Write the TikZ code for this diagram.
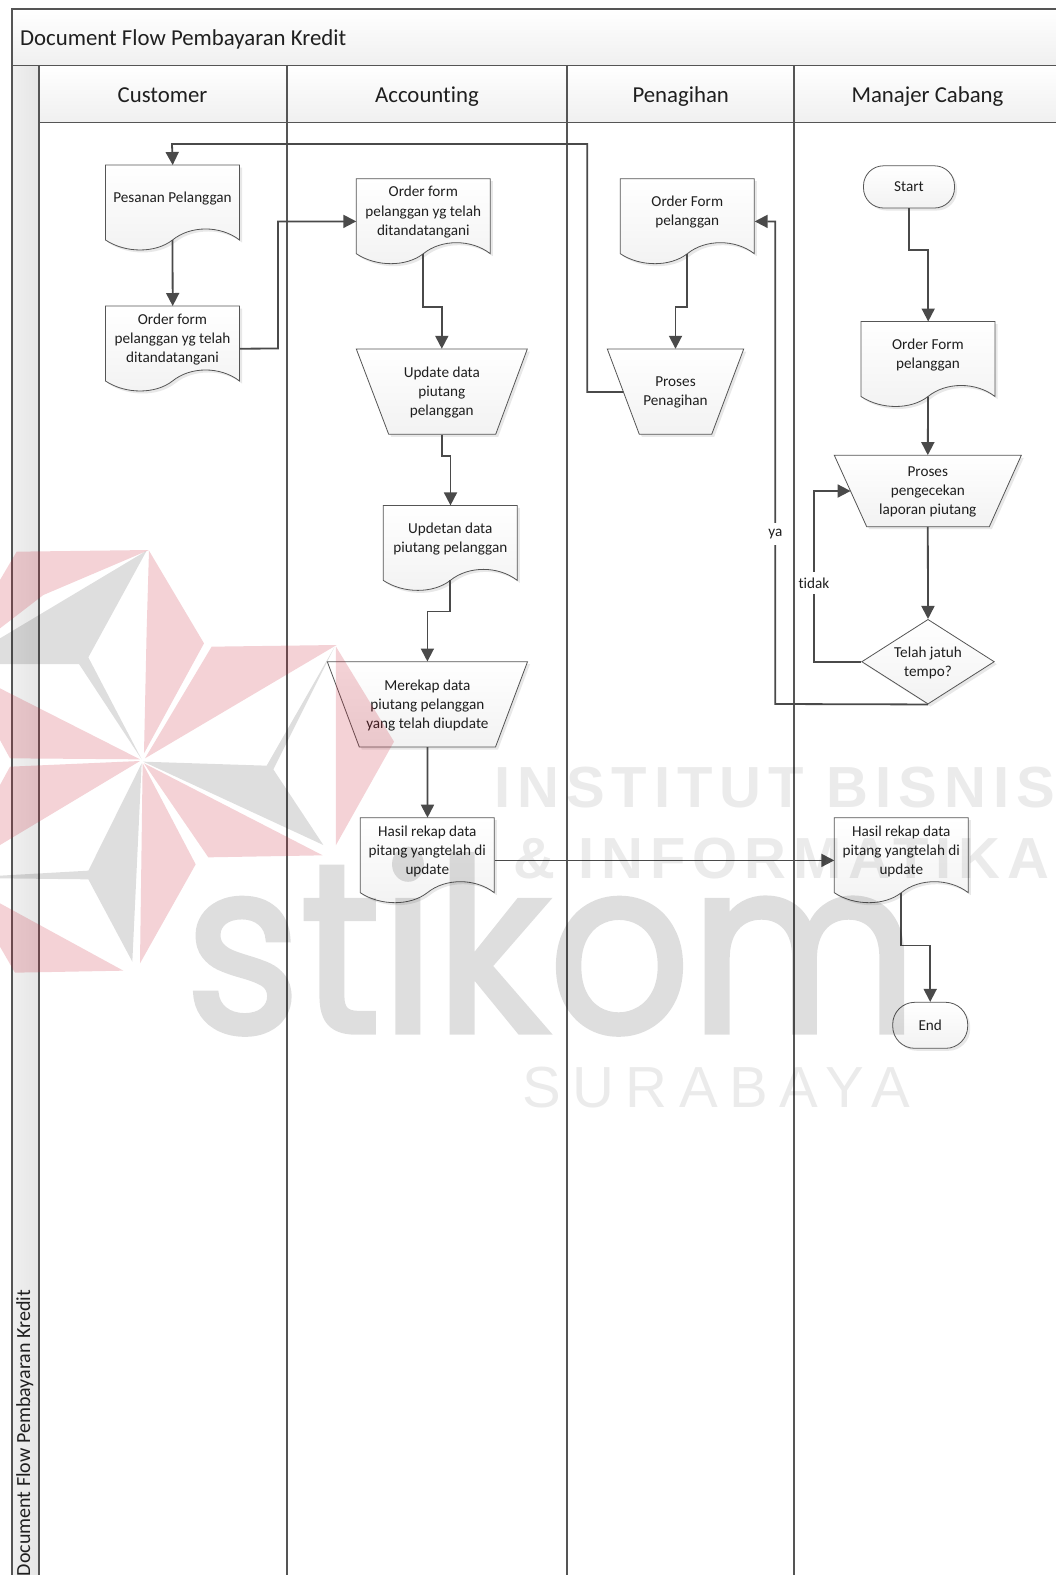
\documentclass[tikz,border=0pt]{standalone}
\usepackage{fontspec}
\setmainfont{Carlito}[Ligatures=NoCommon]
\newfontfamily\wmbig{Poppins}[FakeBold=2.2]
\newfontfamily\wmbold{Liberation Sans}[BoldFont={Liberation Sans Bold},LetterSpace=12]
\newfontfamily\wmthin{Liberation Sans}[LetterSpace=20]
\usetikzlibrary{arrows.meta,shapes.geometric,calc}
\definecolor{ln}{HTML}{555555}
\definecolor{cn}{HTML}{4A4A4A}
\definecolor{bd}{HTML}{555555}
\definecolor{tx}{HTML}{1F1F1F}
\definecolor{sh}{HTML}{E8E8E8}
\definecolor{wmpink}{HTML}{C81E32}
\tikzset{
  flowfill/.style={top color=white,bottom color=black!5,draw=bd,line width=.8pt},
  shadowfill/.style={fill=sh},
  txt/.style={text=tx,font=\fontsize{15.2}{19.2}\selectfont,align=center,inner sep=0pt,yshift=-1pt},
  lane/.style={draw=ln,line width=1.3pt},
  conn/.style={draw=cn,line width=1.8pt,-{Triangle[length=13pt,width=13pt]}},
  header/.style={top color=white,bottom color=black!6},
  pinkshape/.style={fill=wmpink,fill opacity=.2},
  greyshape/.style={fill=black,fill opacity=.13},
  heading/.style={text=tx,font=\fontsize{22.8}{28}\selectfont,inner sep=0pt,text height=16pt,text depth=5pt},
  lbl/.style={text=tx,font=\fontsize{15.2}{19}\selectfont,fill=white,inner sep=1pt,minimum height=22pt}
}
% name, left, top, text
\newcommand{\docnode}[4]{%
  \path[shadowfill,shift={(#2+2.5,#3+2.5)}] (0,0) -- (134,0) -- (134,75) .. controls (115,60.3) and (85,60.3) .. (67,75) .. controls (50,88.3) and (20,88.3) .. (0,75) -- cycle;
  \path[flowfill,shift={(#2,#3)}] (0,0) -- (134,0) -- (134,75) .. controls (115,60.3) and (85,60.3) .. (67,75) .. controls (50,88.3) and (20,88.3) .. (0,75) -- cycle;
  \node[inner sep=0pt,minimum width=134pt,minimum height=85pt,anchor=north west] (#1) at (#2,#3) {};
  \coordinate (#1-w) at ({#2+67},{#3+75});
  \node[txt] (#1-t) at ({#2+67},{#3+32.5}) {#4};
}
% name, xTL, xTR, xBL, xBR, yT, yB, text
\newcommand{\trapnode}[8]{%
  \path[shadowfill,shift={(2.5,2.5)}] (#2,#6) -- (#3,#6) -- (#5,#7) -- (#4,#7) -- cycle;
  \path[flowfill] (#2,#6) -- (#3,#6) -- (#5,#7) -- (#4,#7) -- cycle;
  \node[inner sep=0pt,minimum width={(#3-#2)*1pt},minimum height={(#7-#6)*1pt}] (#1) at ({(#2+#3)/2},{(#6+#7)/2}) {};
  \node[txt] (#1-t) at (#1) {#8};
}
\begin{document}
\begin{tikzpicture}[x=1pt,y=-1pt]
\useasboundingbox (0,0) rectangle (1056,1575);
\clip (0,0) rectangle (1056,1575);
\fill[white] (0,0) rectangle (1056,1575);
% header bands
\path[header] (12,9) rectangle (1056,65.5);
\path[header] (39,65.5) rectangle (1056,122.5);
\path[left color=black!6,middle color=white,right color=black!10] (12,65.5) rectangle (39,1575);
% titles
\node[heading,anchor=west] (title) at (20,39.5) {Document Flow Pembayaran Kredit};
\node[heading,rotate=90,anchor=east,font=\fontsize{20}{24}\selectfont,text height=14pt,text depth=4pt] (sidetitle) at (25,1290) {Document Flow Pembayaran Kredit};
\node[heading] (h1) at (162.5,96.5) {Customer};
\node[heading] (h2) at (427,96.5) {Accounting};
\node[heading] (h3) at (680.7,96.5) {Penagihan};
\node[heading] (h4) at (927.5,96.5) {Manajer Cabang};
% lanes
\draw[lane] (1056,9) -- (12,9) -- (12,1575);
\draw[lane] (12,65.5) -- (1056,65.5);
\draw[lane] (39,122.5) -- (1056,122.5);
\draw[lane] (39,65.5) -- (39,1575);
\draw[lane] (287,65.5) -- (287,1575);
\draw[lane] (567,65.5) -- (567,1575);
\draw[lane] (794,65.5) -- (794,1575);
% shapes
\docnode{pesan}{105.5}{165}{Pesanan Pelanggan}
\docnode{ordc}{105.5}{306}{Order form\\pelanggan yg telah\\ditandatangani}
\docnode{orda}{356.3}{178.7}{Order form\\pelanggan yg telah\\ditandatangani}
\docnode{ordp}{620.3}{178.7}{Order Form\\pelanggan}
\docnode{updt}{383.3}{505.4}{Updetan data\\piutang pelanggan}
\docnode{hasa}{360.3}{817.7}{Hasil rekap data\\pitang yangtelah di\\update}
\docnode{hasm}{834.3}{817.7}{Hasil rekap data\\pitang yangtelah di\\update}
\docnode{ordm}{861}{321.5}{Order Form\\pelanggan}
\trapnode{upd}{356.3}{527.3}{388.7}{495.7}{349}{434.3}{Update data\\piutang\\pelanggan}
\trapnode{pp}{607.3}{743.7}{639.3}{711.7}{349}{434.3}{Proses\\Penagihan}
\trapnode{rek}{327.3}{527.5}{359.3}{495.5}{661.7}{747}{Merekap data\\piutang pelanggan\\yang telah diupdate}
\trapnode{pc}{834.3}{1021.3}{866.7}{989.3}{455.3}{526.7}{Proses\\pengecekan\\laporan piutang}
\coordinate (ppl) at (623.4,392);
\coordinate (pcl) at (850.6,491);
\path[shadowfill,shift={(2.5,2.5)}] (928,619.3) -- (994.3,661.7) -- (928,704) -- (861.7,661.7) -- cycle;
\node[diamond,flowfill,inner sep=0pt,minimum width=132.6pt,minimum height=84.7pt,aspect=1.565] (dec) at (928,661.7) {};
\node[txt] (dec-t) at (dec) {Telah jatuh\\tempo?};
\path[shadowfill,rounded corners=20pt] (866,168.3) rectangle (957,210.5);
\path[shadowfill,rounded corners=22pt] (895.2,1004.8) rectangle (970.2,1050.8);
\node[flowfill,rounded corners=20pt,inner sep=0pt,minimum width=91pt,minimum height=42.2pt] (start) at (909,186.9) {};
\node[txt] (start-t) at ([yshift=1.5pt]start.center) {Start};
\node[flowfill,rounded corners=22pt,inner sep=0pt,minimum width=75pt,minimum height=46pt] (end) at (930.2,1025.3) {};
\node[txt] (end-t) at ([yshift=1pt]end.center) {End};
% connectors
\draw[conn] (ppl) -- (587.3,392) |- (172,144) -- (pesan.north);
\draw[conn] (pesan-w) -- (ordc.north);
\draw[conn] (ordc.east) -- (278,348.5) |- (orda.west);
\draw[conn] (orda-w) |- (432.5,306.7) -| (upd.north);
\draw[conn] (ordp-w) |- (681,306.7) -| (pp.north);
\draw[conn] (upd.south) -- ++(0,21.2) -| (updt.north);
\draw[conn] (updt-w) -- ++(0,31) -| (rek.north);
\draw[conn] (rek.south) -- (hasa.north);
\draw[conn] (hasa.east) -- (hasm.west);
\draw[conn] (hasm-w) -- ++(0,52.7) -| (end.north);
\draw[conn] (start.south) -- ++(0,41.5) -| (ordm.north);
\draw[conn] (ordm-w) -- (pc.north);
\draw[conn] (pc.south) -- (dec.north);
\draw[conn] (dec.west) -- (814,661.7) |- (pcl);
\draw[conn] (dec.south) -- (775.3,704) |- (ordp.east);
\node[lbl] (ya) at (775.3,534.2) {ya};
\node[lbl] (tidak) at (814,583) {tidak};
% watermark
\begin{scope}[shift={(0,530)},xscale=1/3,yscale=1/3]
\path[pinkshape] (447,60) -- (50,65) -- (0,150) -- (0,295) -- (130,195) -- cycle;
\path[pinkshape] (447,62) -- (612,340) -- (432,670) -- (440,300) -- cycle;
\path[pinkshape] (1010,345) -- (635,350) -- (435,685) -- cycle;
\path[pinkshape] (1008,350) -- (1182,635) -- (1008,945) -- cycle;
\path[pinkshape] (432,700) -- (625,982) -- (968,976) -- cycle;
\path[pinkshape] (428,700) -- (587,1003) -- (420,1300) -- cycle;
\path[pinkshape] (420,693) -- (30,710) -- (0,765) -- (0,945) -- cycle;
\path[pinkshape] (420,688) -- (30,685) -- (0,630) -- (0,475) -- cycle;
\path[pinkshape] (0,1120) -- (370,1322) -- (45,1328) -- (0,1250) -- cycle;
\path[greyshape] (440,62) -- (0,325) -- (0,402) -- (237,402) -- (425,688) -- (265,382) -- cycle;
\path[greyshape] (430,695) -- (800,707) -- (1003,352) -- (820,718) -- (970,945) -- cycle;
\path[greyshape] (425,700) -- (265,1022) -- (0,1037) -- (0,1045) -- (265,1048) -- (397,1295) -- cycle;
\end{scope}
\begin{scope}[transparency group,opacity=.13]
\node[anchor=base west,inner sep=0pt,text=black,xscale=.92,transform shape] (wm1) at (185,1032) {\fontsize{240}{240}\wmbig stikom};
\end{scope}
\node[anchor=base west,inner sep=0pt,text=black,text opacity=.08] (wm2) at (494,807) {\fontsize{58}{58}\wmbold\bfseries INSTITUT BISNIS};
\node[anchor=base west,inner sep=0pt,text=black,text opacity=.08] (wm3) at (513,878) {\fontsize{58}{58}\wmbold\bfseries \& INFORMATIKA};
\node[anchor=base west,inner sep=0pt,text=black,text opacity=.08] (wm4) at (522,1107) {\fontsize{58}{58}\wmthin SURABAYA};
\end{tikzpicture}
\end{document}
